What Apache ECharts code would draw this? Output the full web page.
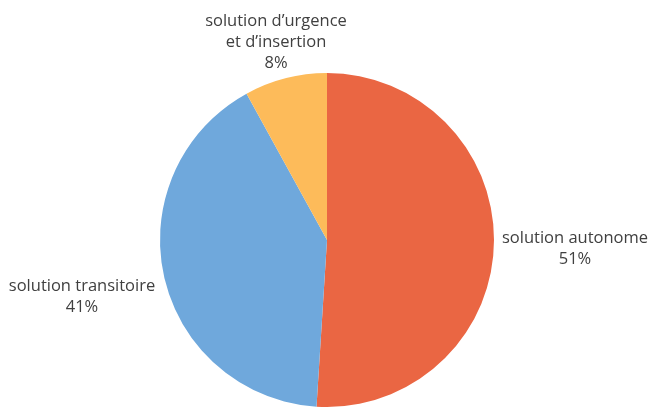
<!DOCTYPE html>
<html><head><meta charset="utf-8">
<script src="https://cdn.jsdelivr.net/npm/echarts@6/dist/echarts.min.js"></script>
<style>html,body{margin:0;padding:0;background:#fff}#c{width:651px;height:407px}</style>
</head><body><div id="c"></div>
<script>
const categories = ['solution autonome', 'solution transitoire', 'solution d’urgence\net d’insertion'];
const values = [51, 41, 8];
const colors = ['#EA6643', '#6FA8DC', '#FDBB5A'];
const labelPos = [[575, 249], [82, 297], [276, 42]];

const chart = echarts.init(document.getElementById('c'));
chart.setOption({
  animation: false,
  series: [{
    type: 'pie',
    center: [327, 240],
    radius: 167,
    startAngle: 90,
    clockwise: true,
    avoidLabelOverlap: false,
    data: categories.map((n, i) => ({name: n, value: values[i], itemStyle: {color: colors[i]}})),
    label: {
      show: true,
      position: 'outside',
      formatter: '{b}\n{d}%',
      fontFamily: 'Open Sans',
      fontSize: 16.5,
      lineHeight: 21,
      color: '#404040',
      align: 'center'
    },
    labelLine: {show: false},
    labelLayout: function (p) {
      const pos = labelPos[p.dataIndex];
      return {x: pos[0], y: pos[1], align: 'center', verticalAlign: 'middle'};
    }
  }]
});
</script></body></html>
